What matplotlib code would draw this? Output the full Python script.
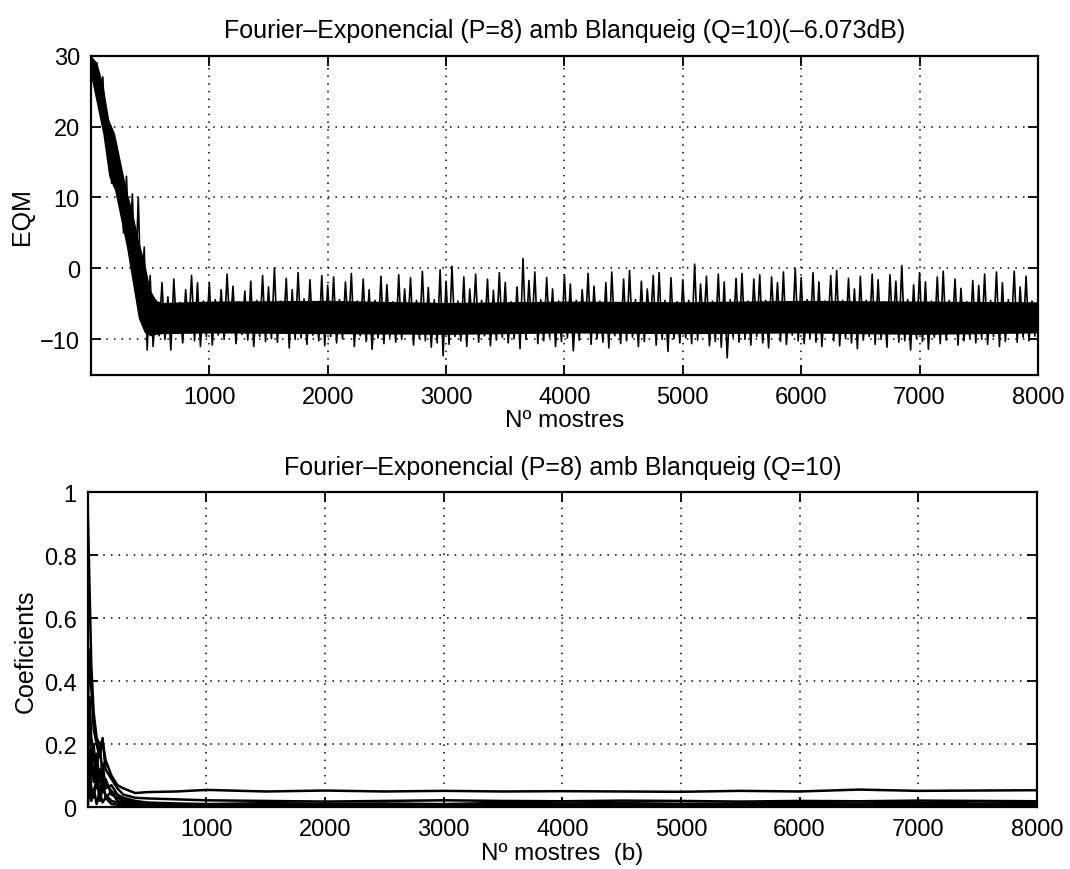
import numpy as np
import matplotlib
matplotlib.use("Agg")
import matplotlib.pyplot as plt

plt.rcParams['font.family'] = ['Liberation Sans', 'DejaVu Sans']

# --- dades llegides de la figura ---
titol_eqm = "Fourier\u2013Exponencial (P=8) amb Blanqueig (Q=10)(\u20136.073dB)"
titol_coef = "Fourier\u2013Exponencial (P=8) amb Blanqueig (Q=10)"
xlabel_eqm = "N\u00ba mostres"
xlabel_coef = "N\u00ba mostres  (b)"

pas_eqm = 25  # una mostra llegida cada 25 iteracions
eqm = [
    30, 26, 29, 22, 27, 18, 20.5, 12, 18, 10, 14.5, 5, 13, 2, 10.5, -3, 10, -6, 3, -11.5,
    -1, -11, -4.5, -9.5, -2, -10, -4, -11.5, -1.5, -9, -4.8, -10.5, -3, -8.8, -1, -10.2, -2, -11, -4.6, -9.6,
    -2, -10.8, -4.4, -9.4, -3, -10, -0.8, -8.9, -2.5, -10.6, -4.7, -9.3, -3.2, -10.1, -1.8, -11, -4.5, -9.6, -1, -10.3,
    -2.6, -9.9, 0.1, -10.4, -4.6, -8.9, -1.4, -11.2, -3, -10, -0.6, -9.8, -4.3, -10.7, -1.6, -9.4, -4.8, -10.2, -1, -10.9,
    -2.4, -9.6, -1.2, -10.5, -4.4, -9.9, -1.9, -8.8, -0.7, -11, -4.6, -9.5, -1.5, -10.3, -3, -11.4, -4.5, -9.8, -1.1, -10.6,
    -2.3, -9.7, -4.7, -10.4, -0.9, -10, -2.9, -8.9, -1.3, -10.8, -4.5, -9.9, -0.4, -10.2, -2.7, -11.1, -4.4, -10.5, -0.2, -12.3,
    -1.8, -10.7, 0.3, -9.6, -4.6, -10.2, -1.2, -11, -2.9, -8.8, -0.8, -10.4, -4.5, -9.5, -1.5, -10.9, -3.1, -10.1, -0.6, -9.7,
    -2, -10.5, -4.7, -9.9, -2.6, -11.3, 1.4, -10, -1.7, -8.9, -0.5, -10.6, -4.4, -10.2, -1.3, -9.7, -2.9, -11, -4.6, -10.3,
    -0.9, -9.8, -2.2, -11.6, -4.5, -10.1, -3, -8.9, -0.7, -10.7, -2.5, -9.9, -4.6, -10.4, -2, -11.2, -0.5, -9.5, -4.8, -10.6,
    -1.5, -10.2, -0.3, -9.7, -4.4, -11, -1.8, -10.3, -2.9, -8.8, -1, -10.8, -0.6, -10, -4.5, -11.7, -1.3, -9.9, -4.7, -10.5,
    -1.6, -9.8, -4.5, -10.6, 0.6, -10.1, -2.2, -8.9, -1.1, -10.9, -4.6, -10.3, -0.8, -11.1, -1.9, -12.6, -4.4, -9.7, -1.4, -10.4,
    -0.7, -10, -4.6, -10.8, -1.5, -9.6, -0.9, -10.5, -4.5, -11.2, -1.2, -8.9, -2, -10.3, -0.5, -10.7, -4.7, -9.4, 0.0, -10.2,
    -1.3, -10.6, -4.4, -9.8, -0.6, -10.4, -1.9, -11, -4.6, -8.8, -1, -10.2, -0.3, -10.9, -4.5, -9.9, -1.4, -10.5, -2.9, -11.3,
    -1.1, -10.1, -4.5, -9.6, -0.8, -10.7, -1.6, -10, -4.7, -11.1, -0.9, -8.9, -1.8, -10.4, 0.4, -10.2, -4.4, -11.5, -2.3, -9.9,
    -0.6, -10.3, -1.9, -11.4, -4.6, -9.7, -1.2, -10.6, -0.4, -10.1, -4.5, -8.8, -1.5, -10.8, -2.8, -10.2, -4.7, -9.9, -1.7, -10.5,
    -2.4, -10, -0.8, -10.7, -4.5, -9.6, -0.5, -11, -2, -10.3, -4.4, -8.9, -0.4, -10.4, -2.6, -9.7, -1.1, -10.2, -4.6, -9.5,
]

# franja densa (nucli negre) del senyal EQM
nucli_x = [0, 50, 100, 150, 200, 250, 300, 350, 400, 450, 500, 550, 600, 1000, 2000, 3000, 4000, 5000, 6000, 7000, 8000]
nucli_sup = [30, 29, 26, 21, 19, 15, 11, 8, 4, 1, -3, -4.5, -4.8, -4.6, -4.5, -4.8, -4.6, -4.7, -4.5, -4.6, -4.7]
nucli_inf = [27, 23, 19, 13, 11, 7, 3, -2, -7, -9, -9.5, -9.3, -9.2, -9.1, -9.2, -9.3, -9.1, -9.2, -9.1, -9.3, -9.1]

coef_x = [0, 15, 30, 50, 75, 100, 125, 150, 200, 250, 300, 400, 500, 750, 1000, 1500,
          2000, 2500, 3000, 3500, 4000, 4500, 5000, 5500, 6000, 6500, 7000, 7500, 8000]
coeficients = [
    [0.95, 0.7, 0.45, 0.3, 0.22, 0.2, 0.21, 0.15, 0.1, 0.07, 0.06, 0.045, 0.048, 0.05, 0.055,
     0.05, 0.053, 0.05, 0.052, 0.05, 0.051, 0.05, 0.049, 0.052, 0.05, 0.056, 0.052, 0.053, 0.054],
    [0.3, 0.5, 0.38, 0.25, 0.2, 0.16, 0.22, 0.12, 0.09, 0.06, 0.04, 0.03, 0.028, 0.025, 0.022,
     0.02, 0.018, 0.02, 0.022, 0.02, 0.019, 0.021, 0.02, 0.018, 0.02, 0.019, 0.021, 0.02, 0.019],
    [0.15, 0.35, 0.22, 0.18, 0.12, 0.2, 0.1, 0.08, 0.05, 0.04, 0.03, 0.02, 0.015, 0.012, 0.01,
     0.013, 0.011, 0.012, 0.01, 0.014, 0.012, 0.013, 0.011, 0.012, 0.013, 0.012, 0.014, 0.012, 0.013],
    [0.2, 0.25, 0.15, 0.1, 0.17, 0.08, 0.14, 0.06, 0.07, 0.04, 0.025, 0.015, 0.01, 0.008, 0.006,
     0.008, 0.007, 0.009, 0.008, 0.007, 0.009, 0.008, 0.007, 0.008, 0.009, 0.008, 0.007, 0.008, 0.009],
    [0.05, 0.18, 0.1, 0.2, 0.06, 0.12, 0.05, 0.09, 0.04, 0.03, 0.02, 0.01, 0.005, 0.004, 0.003,
     0.005, 0.004, 0.003, 0.005, 0.004, 0.003, 0.004, 0.005, 0.004, 0.003, 0.004, 0.005, 0.004, 0.003],
    [0.1, 0.05, 0.15, 0.08, 0.13, 0.04, 0.09, 0.03, 0.05, 0.02, 0.015, 0.008, 0.004, 0.003, 0.002,
     0.003, 0.002, 0.003, 0.002, 0.003, 0.002, 0.003, 0.002, 0.003, 0.002, 0.003, 0.002, 0.003, 0.002],
    [0.02, 0.12, 0.06, 0.03, 0.1, 0.02, 0.06, 0.04, 0.02, 0.015, 0.01, 0.005, 0.002, 0.002, 0.001,
     0.002, 0.001, 0.002, 0.001, 0.002, 0.001, 0.002, 0.001, 0.002, 0.001, 0.002, 0.001, 0.002, 0.001],
    [0.0, 0.08, 0.02, 0.06, 0.01, 0.05, 0.015, 0.03, 0.01, 0.008, 0.005, 0.003, 0.001, 0.001, 0.0,
     0.001, 0.0, 0.001, 0.0, 0.001, 0.0, 0.001, 0.0, 0.001, 0.0, 0.001, 0.0, 0.001, 0.0],
]

xticks = [1000, 2000, 3000, 4000, 5000, 6000, 7000, 8000]
yticks_eqm = [-10, 0, 10, 20, 30]
yticks_coef = [0, 0.2, 0.4, 0.6, 0.8, 1]
ylabels_coef = ['0', '0.2', '0.4', '0.6', '0.8', '1']


def estil(ax):
    ax.grid(True, color='black', linestyle=(0, (1, 4)), linewidth=1.1)
    ax.tick_params(direction='in', top=True, right=True, length=7, width=1.3,
                   labelsize=17, pad=8)
    for s in ax.spines.values():
        s.set_linewidth(1.6)
    ax.set_xticks(xticks)


fig = plt.figure(figsize=(10.7, 8.7), dpi=100)

ax1 = fig.add_axes([0.085, 0.568, 0.885, 0.367])
x_eqm = np.arange(len(eqm)) * pas_eqm
ax1.fill_between(nucli_x, nucli_inf, nucli_sup, color='black', linewidth=0)
ax1.plot(x_eqm, eqm, color='black', linewidth=1.2)
ax1.set_xlim(0, 8000)
ax1.set_ylim(-15, 30)
estil(ax1)
ax1.set_yticks(yticks_eqm)
ax1.set_title(titol_eqm, fontsize=18, pad=13)
ax1.set_xlabel(xlabel_eqm, fontsize=17.5, labelpad=1)
ax1.set_ylabel("EQM", fontsize=18, labelpad=4)

ax2 = fig.add_axes([0.082, 0.071, 0.887, 0.362])
for serie in coeficients:
    ax2.plot(coef_x, serie, color='black', linewidth=1.8)
ax2.set_xlim(0, 8000)
ax2.set_ylim(0, 1)
estil(ax2)
ax2.set_yticks(yticks_coef)
ax2.set_yticklabels(ylabels_coef)
ax2.set_title(titol_coef, fontsize=18, pad=13)
ax2.set_xlabel(xlabel_coef, fontsize=17.5, labelpad=1)
ax2.set_ylabel("Coeficients", fontsize=18, labelpad=4)

fig.savefig("out.png", dpi=100)
